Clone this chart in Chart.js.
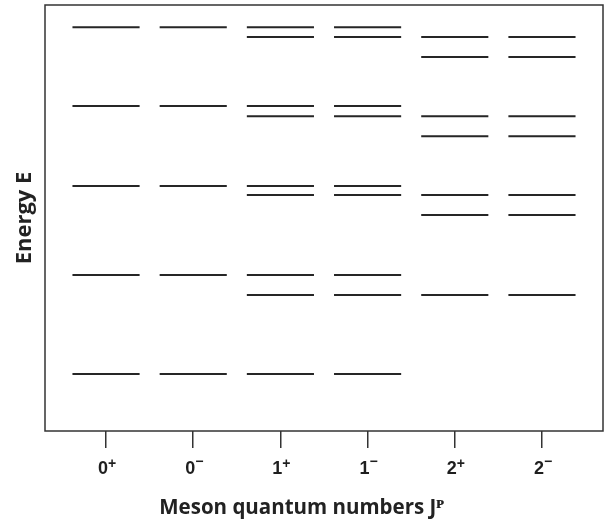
<!DOCTYPE html>
<html>
<head>
<meta charset="utf-8">
<script src="https://cdn.jsdelivr.net/npm/chart.js@4"></script>
<style>
  html, body { margin: 0; padding: 0; background: #fff; }
  #wrap { width: 605px; height: 520px; }
</style>
</head>
<body>
<div id="wrap"><canvas id="levels"></canvas></div>
<script>
// meson energy levels per J^P (arbitrary energy units, 0 = bottom of axis)
const spins = ['0', '0', '1', '1', '2', '2'];
const parities = ['+', '\u2212', '+', '\u2212', '+', '\u2212'];
const categories = spins.map((j, i) => j + (parities[i] === '+' ? '\u207A' : '\u207B'));

const level0plus  = [94.8, 76.3, 57.5, 36.6, 13.4];
const level0minus = [94.8, 76.3, 57.5, 36.6, 13.4];
const level1plus  = [94.8, 92.5, 76.3, 73.9, 57.5, 55.4, 36.6, 31.9, 13.4];
const level1minus = [94.8, 92.5, 76.3, 73.9, 57.5, 55.4, 36.6, 31.9, 13.4];
const level2plus  = [92.5, 87.8, 73.9, 69.2, 55.4, 50.7, 31.9];
const level2minus = [92.5, 87.8, 73.9, 69.2, 55.4, 50.7, 31.9];

const allLevels = [level0plus, level0minus, level1plus, level1minus, level2plus, level2minus];

const halfWidth = 0.385;
const ink = '#262626';

// each level becomes a short horizontal segment, separated by gaps
const datasets = allLevels.map((levels, i) => {
    const pts = [];
    levels.forEach(e => {
        pts.push({ x: i - halfWidth, y: e });
        pts.push({ x: i + halfWidth, y: e });
        pts.push({ x: i, y: null });
    });
    return {
        label: categories[i],
        data: pts,
        showLine: true,
        spanGaps: false,
        borderColor: ink,
        borderWidth: 2,
        borderCapStyle: 'butt',
        pointRadius: 0,
        pointHoverRadius: 0,
    };
});

const frameBox = {
    id: 'frameBox',
    afterDraw(chart) {
        const { ctx, chartArea: a } = chart;
        ctx.save();
        ctx.strokeStyle = '#333';
        ctx.lineWidth = 1.5;
        ctx.strokeRect(a.left, a.top, a.right - a.left, a.bottom - a.top);
        ctx.restore();
    }
};

// J^P tick labels with a proper raised sign
const jpLabels = {
    id: 'jpLabels',
    afterDraw(chart) {
        const { ctx, chartArea: a } = chart;
        const xs = chart.scales.x;
        const base = a.bottom + 43;
        ctx.save();
        ctx.fillStyle = '#1e1e1e';
        ctx.textBaseline = 'alphabetic';
        ctx.textAlign = 'left';
        spins.forEach((j, i) => {
            const x = xs.getPixelForValue(i);
            ctx.font = 'bold 18px "Liberation Sans"';
            const wj = ctx.measureText(j).width;
            ctx.font = 'bold 14px "Liberation Sans"';
            const ws = ctx.measureText(parities[i]).width;
            const left = x + 1 - (wj + ws) / 2;
            ctx.font = 'bold 18px "Liberation Sans"';
            ctx.fillText(j, left, base);
            ctx.font = 'bold 14px "Liberation Sans"';
            ctx.fillText(parities[i], left + wj, parities[i] === '+' ? base - 5.7 : base - 8.4);
        });
        ctx.restore();
    }
};

new Chart(document.getElementById('levels'), {
    type: 'scatter',
    data: { datasets },
    plugins: [frameBox, jpLabels],
    options: {
        responsive: true,
        maintainAspectRatio: false,
        animation: false,
        layout: { padding: { top: 5, right: 2, left: 0, bottom: 0 } },
        plugins: {
            legend: { display: false },
            tooltip: { enabled: false },
            title: {
                display: true,
                position: 'bottom',
                text: 'Meson quantum numbers J\u1D3E',
                color: '#222',
                font: { family: 'Open Sans', size: 20.5, weight: 'bold' },
                padding: { top: 7, bottom: 0 }
            }
        },
        scales: {
            x: {
                type: 'linear',
                min: -0.7,
                max: 5.7,
                afterBuildTicks: (scale) => {
                    scale.ticks = categories.map((c, i) => ({ value: i }));
                },
                border: { display: false },
                grid: {
                    drawOnChartArea: false,
                    drawTicks: true,
                    tickLength: 17,
                    color: '#333',
                    lineWidth: 1.5
                },
                ticks: {
                    padding: 10,
                    color: 'rgba(0,0,0,0)',
                    font: { family: 'DejaVu Sans', size: 17, weight: 'bold' },
                    callback: (v) => categories[v] ?? ''
                }
            },
            y: {
                min: 0,
                max: 100,
                border: { display: false },
                grid: { display: false, drawTicks: false },
                ticks: { display: false },
                title: {
                    display: true,
                    text: 'Energy E',
                    color: '#222',
                    font: { family: 'Open Sans', size: 22, weight: 'bold' },
                    padding: { top: 12, bottom: 6.6 }
                }
            }
        }
    }
});
</script>
</body>
</html>
